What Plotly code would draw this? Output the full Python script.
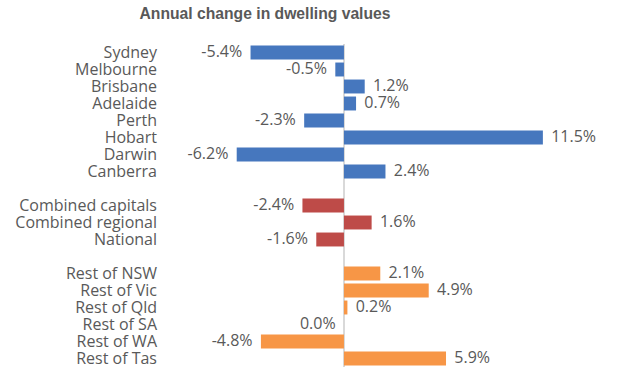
import plotly.graph_objects as go

title = "Annual change in dwelling values"
capitals = ["Sydney", "Melbourne", "Brisbane", "Adelaide", "Perth", "Hobart", "Darwin", "Canberra"]
capital_vals = [-5.4, -0.5, 1.2, 0.7, -2.3, 11.5, -6.2, 2.4]
combined = ["Combined capitals", "Combined regional", "National"]
combined_vals = [-2.4, 1.6, -1.6]
regions = ["Rest of NSW", "Rest of Vic", "Rest of Qld", "Rest of SA", "Rest of WA", "Rest of Tas"]
region_vals = [2.1, 4.9, 0.2, 0.0, -4.8, 5.9]

colors = {"cap": "#4677BE", "comb": "#BE4B48", "reg": "#F79646"}
txt = "#595959"
font_fam = "Open Sans, Lato, sans-serif"

order = capitals + [" "] + combined + ["  "] + regions

fig = go.Figure()
groups = [(capitals, capital_vals, colors["cap"]),
          (combined, combined_vals, colors["comb"]),
          (regions, region_vals, colors["reg"])]
for cats, vals, col in groups:
    fig.add_trace(go.Bar(y=cats, x=vals, orientation="h", marker=dict(color=col, line=dict(width=0)),
                         showlegend=False, hoverinfo="skip"))
    fig.add_trace(go.Scatter(y=cats, x=vals, mode="text",
                             text=[(f"{v:.1f}%  " if v <= 0 else f"  {v:.1f}%") for v in vals],
                             textposition=["middle left" if v <= 0 else "middle right" for v in vals],
                             textfont=dict(family=font_fam, size=16, color=txt),
                             showlegend=False, hoverinfo="skip"))

fig.update_layout(
    width=620, height=385,
    margin=dict(l=158, r=10, t=44, b=18),
    paper_bgcolor="white", plot_bgcolor="white",
    bargap=0.18, barmode="overlay",
    title=dict(text=f"<b>{title}</b>", x=265/620, xanchor="center", y=1 - 14/385, yanchor="middle",
               font=dict(family="Arial, Liberation Sans, sans-serif", size=15.7, color=txt),
               automargin=False),
    xaxis=dict(range=[-10.75, 15.38], showgrid=False, showticklabels=False, zeroline=True,
               zerolinecolor="#D9D9D9", zerolinewidth=1.5, ticks="", automargin=False),
    yaxis=dict(type="category", categoryorder="array", categoryarray=order,
               tickmode="array", tickvals=order, ticktext=order,
               showgrid=False, ticks="", automargin=False,
               tickfont=dict(family=font_fam, size=16, color=txt),
               range=[len(order) - 0.5, -0.5], autorange=False),
)
fig.write_html("out.html", config={"displayModeBar": False},
               post_script="document.body.style.margin='0';")
